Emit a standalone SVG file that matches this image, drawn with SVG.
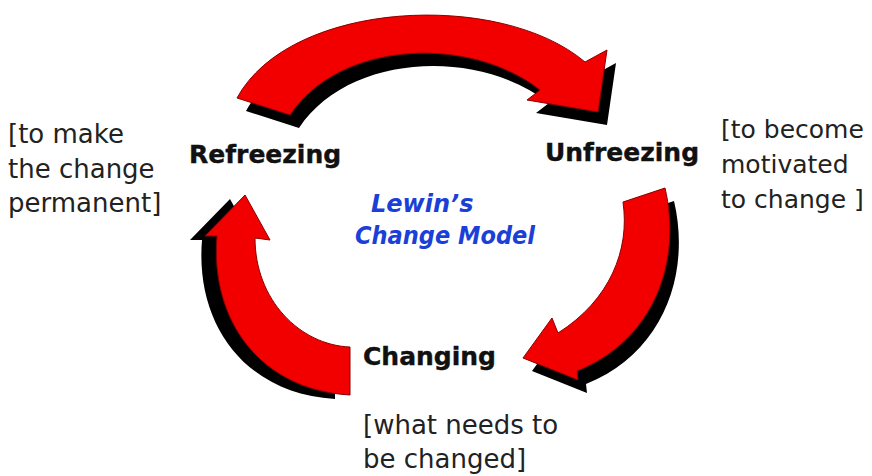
<svg xmlns="http://www.w3.org/2000/svg" width="872" height="476" viewBox="0 0 872 476">
<defs>
<style>
.red{fill:#f20000;stroke:#8a0000;stroke-width:1}
.shadow{fill:#000}
.lbl{font-family:"DejaVu Sans",Verdana,sans-serif;font-weight:bold;font-size:25px;fill:#111;stroke:#111;stroke-width:0.4}
.note{font-family:"DejaVu Sans",Verdana,sans-serif;font-size:26px;fill:#222}
.note.r{font-size:25px}
.title{font-family:"DejaVu Sans",Verdana,sans-serif;font-weight:bold;font-style:italic;font-size:24px;fill:#1a40d8}
</style>
<path id="arrTop" d="M237,98 C290,0 500,-10 585,62 L607,50 L598,112 L527,100 L540,90 C470,35 340,40 290,115 Z"/>
<path id="arrRight" d="M623,202 L665,188 C682,260 655,340 577,371 L578,380 L523,358 L552,318 L558,333 C610,300 630,250 623,202 Z"/>
<path id="arrLeft" d="M350,347 L350,395 C260,390 210,320 217,236 L205,236 L245,195 L270,240 L255,238 C255,300 300,345 350,347 Z"/>
</defs>
<g id="connectors">
<g id="arrow-unfreeze-top">
<use href="#arrTop" class="shadow" transform="translate(9,13)"/>
<use href="#arrTop" class="red"/>
</g>
<g id="arrow-changing-right">
<use href="#arrRight" class="shadow" transform="translate(9,13)"/>
<use href="#arrRight" class="red"/>
</g>
<g id="arrow-refreeze-left">
<use href="#arrLeft" class="shadow" transform="translate(-15,4)"/>
<use href="#arrLeft" class="red"/>
</g>
</g>
<g id="refreezing">
<text class="lbl" x="189" y="163">Refreezing</text>
<text class="note" x="8" y="143">[to make</text>
<text class="note" x="8" y="178">the change</text>
<text class="note" x="8" y="212">permanent]</text>
</g>
<g id="unfreezing">
<text class="lbl" x="545" y="161">Unfreezing</text>
<text class="note r" x="721" y="138">[to become</text>
<text class="note r" x="721" y="173">motivated</text>
<text class="note r" x="721" y="208">to change ]</text>
</g>
<g id="changing">
<text class="lbl" x="363" y="365">Changing</text>
<text class="note" x="363" y="434">[what needs to</text>
<text class="note" x="363" y="468">be changed]</text>
</g>
<g id="title">
<text class="title" x="371" y="212">Lewin’s</text>
<text class="title" x="355" y="244" textLength="180" lengthAdjust="spacingAndGlyphs">Change Model</text>
</g>
</svg>
